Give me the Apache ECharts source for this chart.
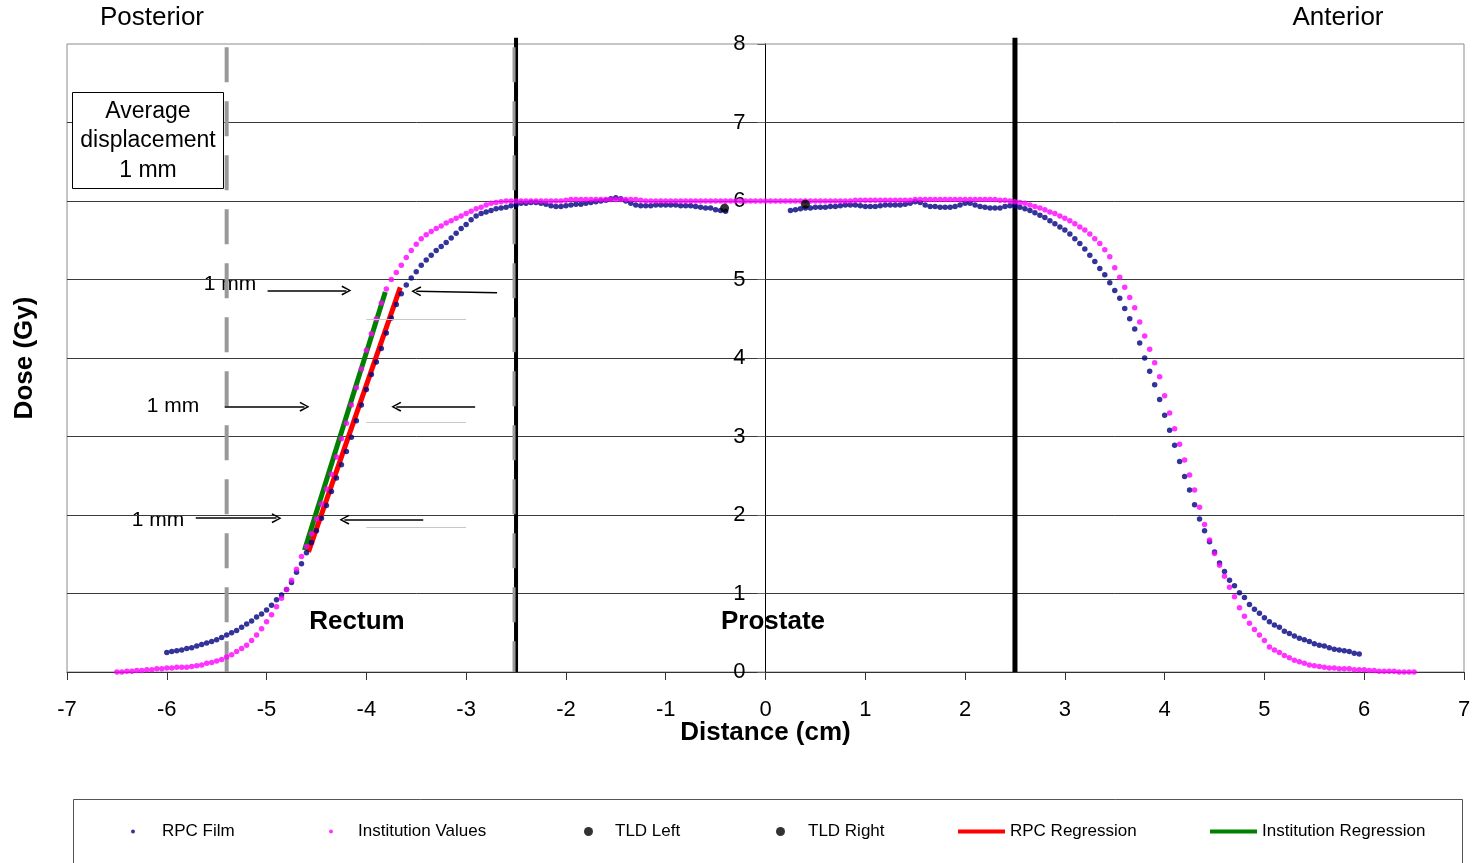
<!DOCTYPE html>
<html>
<head>
<meta charset="utf-8">
<script src="https://cdn.jsdelivr.net/npm/echarts@6.0.0/dist/echarts.min.js"></script>
<style>
html, body { margin: 0; padding: 0; background: #fff; }
#chart { width: 1476px; height: 863px; }
</style>
</head>
<body>
<div id="chart"></div>
<script>
// dose profile values (distance cm, dose Gy)
const rpcFilm = [
  [-6.00,0.25],[-5.95,0.26],[-5.90,0.27],[-5.85,0.28],[-5.80,0.30],[-5.75,0.31],[-5.70,0.33],[-5.65,0.35],[-5.60,0.37],[-5.55,0.39],
  [-5.50,0.41],[-5.45,0.44],[-5.40,0.47],[-5.35,0.50],[-5.30,0.53],[-5.25,0.57],[-5.20,0.61],[-5.15,0.65],[-5.10,0.70],[-5.05,0.74],
  [-5.00,0.79],[-4.95,0.85],[-4.90,0.92],[-4.85,0.98],[-4.80,1.05],[-4.75,1.14],[-4.70,1.27],[-4.65,1.38],[-4.60,1.52],[-4.55,1.65],
  [-4.50,1.80],[-4.45,1.96],[-4.40,2.12],[-4.35,2.30],[-4.30,2.47],[-4.25,2.64],[-4.20,2.81],[-4.15,2.99],[-4.10,3.20],[-4.05,3.40],
  [-4.00,3.60],[-3.95,3.79],[-3.90,3.95],[-3.85,4.12],[-3.80,4.32],[-3.75,4.51],[-3.70,4.68],[-3.65,4.82],[-3.60,4.93],[-3.55,5.02],
  [-3.50,5.10],[-3.45,5.18],[-3.40,5.25],[-3.35,5.31],[-3.30,5.37],[-3.25,5.42],[-3.20,5.47],[-3.15,5.53],[-3.10,5.59],[-3.05,5.65],
  [-3.00,5.70],[-2.95,5.76],[-2.90,5.81],[-2.85,5.84],[-2.80,5.86],[-2.75,5.88],[-2.70,5.90],[-2.65,5.91],[-2.60,5.92],[-2.55,5.94],
  [-2.50,5.95],[-2.45,5.97],[-2.40,5.97],[-2.35,5.98],[-2.30,5.98],[-2.25,5.97],[-2.20,5.96],[-2.15,5.94],[-2.10,5.93],[-2.05,5.93],
  [-2.00,5.94],[-1.95,5.95],[-1.90,5.96],[-1.85,5.96],[-1.80,5.97],[-1.75,5.98],[-1.70,5.99],[-1.65,6.00],[-1.60,6.01],[-1.55,6.03],
  [-1.50,6.04],[-1.45,6.03],[-1.40,6.00],[-1.35,5.97],[-1.30,5.95],[-1.25,5.94],[-1.20,5.94],[-1.15,5.94],[-1.10,5.95],[-1.05,5.95],
  [-1.00,5.95],[-0.95,5.95],[-0.90,5.95],[-0.85,5.94],[-0.80,5.94],[-0.75,5.94],[-0.70,5.93],[-0.65,5.92],[-0.60,5.91],[-0.55,5.91],
  [-0.50,5.89],[-0.45,5.88],[-0.40,5.87],
  [0.25,5.88],[0.30,5.89],[0.35,5.90],[0.40,5.91],[0.45,5.91],[0.50,5.92],[0.55,5.92],[0.60,5.92],[0.65,5.93],[0.70,5.93],
  [0.75,5.94],[0.80,5.95],[0.85,5.95],[0.90,5.95],[0.95,5.94],[1.00,5.93],[1.05,5.93],[1.10,5.93],[1.15,5.94],[1.20,5.95],
  [1.25,5.95],[1.30,5.95],[1.35,5.95],[1.40,5.96],[1.45,5.97],[1.50,5.99],[1.55,5.98],[1.60,5.95],[1.65,5.93],[1.70,5.93],
  [1.75,5.92],[1.80,5.92],[1.85,5.92],[1.90,5.93],[1.95,5.95],[2.00,5.97],[2.05,5.97],[2.10,5.95],[2.15,5.93],[2.20,5.92],
  [2.25,5.91],[2.30,5.91],[2.35,5.91],[2.40,5.93],[2.45,5.94],[2.50,5.94],[2.55,5.92],[2.60,5.90],[2.65,5.88],[2.70,5.85],
  [2.75,5.82],[2.80,5.79],[2.85,5.75],[2.90,5.71],[2.95,5.67],[3.00,5.63],[3.05,5.58],[3.10,5.52],[3.15,5.46],[3.20,5.39],
  [3.25,5.31],[3.30,5.23],[3.35,5.14],[3.40,5.06],[3.45,4.96],[3.50,4.86],[3.55,4.76],[3.60,4.63],[3.65,4.50],[3.70,4.37],
  [3.75,4.19],[3.80,4.00],[3.85,3.83],[3.90,3.66],[3.95,3.47],[4.00,3.27],[4.05,3.08],[4.10,2.89],[4.15,2.68],[4.20,2.49],
  [4.25,2.32],[4.30,2.13],[4.35,1.95],[4.40,1.80],[4.45,1.66],[4.50,1.53],[4.55,1.39],[4.60,1.28],[4.65,1.17],[4.70,1.10],
  [4.75,1.01],[4.80,0.95],[4.85,0.86],[4.90,0.80],[4.95,0.75],[5.00,0.69],[5.05,0.64],[5.10,0.60],[5.15,0.57],[5.20,0.52],
  [5.25,0.49],[5.30,0.46],[5.35,0.43],[5.40,0.41],[5.45,0.39],[5.50,0.36],[5.55,0.34],[5.60,0.33],[5.65,0.31],[5.70,0.29],
  [5.75,0.28],[5.80,0.27],[5.85,0.26],[5.90,0.24],[5.95,0.23]
];

const institutionValues = [
  [-6.50,0.00],[-6.45,0.00],[-6.40,0.01],[-6.35,0.01],[-6.30,0.02],[-6.25,0.02],[-6.20,0.03],[-6.15,0.03],[-6.10,0.04],[-6.05,0.04],
  [-6.00,0.05],[-5.95,0.05],[-5.90,0.06],[-5.85,0.06],[-5.80,0.06],[-5.75,0.07],[-5.70,0.08],[-5.65,0.09],[-5.60,0.11],[-5.55,0.12],
  [-5.50,0.14],[-5.45,0.16],[-5.40,0.19],[-5.35,0.22],[-5.30,0.26],[-5.25,0.30],[-5.20,0.34],[-5.15,0.40],[-5.10,0.47],[-5.05,0.55],
  [-5.00,0.64],[-4.95,0.73],[-4.90,0.83],[-4.85,0.94],[-4.80,1.05],[-4.75,1.17],[-4.70,1.31],[-4.65,1.47],[-4.60,1.60],[-4.55,1.76],
  [-4.50,1.95],[-4.45,2.14],[-4.40,2.33],[-4.35,2.52],[-4.30,2.74],[-4.25,2.97],[-4.20,3.17],[-4.15,3.40],[-4.10,3.62],[-4.05,3.86],
  [-4.00,4.10],[-3.95,4.31],[-3.90,4.50],[-3.85,4.70],[-3.80,4.88],[-3.75,5.00],[-3.70,5.09],[-3.65,5.18],[-3.60,5.28],[-3.55,5.37],
  [-3.50,5.45],[-3.45,5.52],[-3.40,5.57],[-3.35,5.61],[-3.30,5.65],[-3.25,5.68],[-3.20,5.72],[-3.15,5.75],[-3.10,5.78],[-3.05,5.81],
  [-3.00,5.84],[-2.95,5.87],[-2.90,5.90],[-2.85,5.92],[-2.80,5.95],[-2.75,5.97],[-2.70,5.98],[-2.65,5.99],[-2.60,6.00],[-2.55,6.00],
  [-2.50,6.00],[-2.45,6.00],[-2.40,6.00],[-2.35,6.00],[-2.30,6.00],[-2.25,6.00],[-2.20,6.00],[-2.15,6.00],[-2.10,6.00],[-2.05,6.00],
  [-2.00,6.01],[-1.95,6.02],[-1.90,6.02],[-1.85,6.02],[-1.80,6.02],[-1.75,6.02],[-1.70,6.02],[-1.65,6.02],[-1.60,6.02],[-1.55,6.02],
  [-1.50,6.02],[-1.45,6.02],[-1.40,6.02],[-1.35,6.02],[-1.30,6.02],[-1.25,6.01],[-1.20,6.00],[-1.15,6.00],[-1.10,6.00],[-1.05,6.00],
  [-1.00,6.00],[-0.95,6.00],[-0.90,6.00],[-0.85,6.00],[-0.80,6.00],[-0.75,6.00],[-0.70,6.00],[-0.65,6.00],[-0.60,6.00],[-0.55,6.00],
  [-0.50,6.00],[-0.45,6.00],[-0.40,6.00],[-0.35,6.00],[-0.30,6.00],[-0.25,6.00],[-0.20,6.00],[-0.15,6.00],[-0.10,6.00],[-0.05,6.00],
  [0.00,6.00],[0.05,6.00],[0.10,6.00],[0.15,6.00],[0.20,6.00],[0.25,6.00],[0.30,6.00],[0.35,6.00],[0.40,6.00],[0.45,6.00],
  [0.50,6.00],[0.55,6.00],[0.60,6.00],[0.65,6.00],[0.70,6.00],[0.75,6.00],[0.80,6.00],[0.85,6.00],[0.90,6.01],[0.95,6.01],
  [1.00,6.01],[1.05,6.01],[1.10,6.01],[1.15,6.01],[1.20,6.01],[1.25,6.01],[1.30,6.01],[1.35,6.01],[1.40,6.01],[1.45,6.01],
  [1.50,6.02],[1.55,6.02],[1.60,6.02],[1.65,6.02],[1.70,6.02],[1.75,6.02],[1.80,6.02],[1.85,6.02],[1.90,6.02],[1.95,6.02],
  [2.00,6.02],[2.05,6.02],[2.10,6.02],[2.15,6.02],[2.20,6.02],[2.25,6.02],[2.30,6.02],[2.35,6.01],[2.40,6.01],[2.45,6.00],
  [2.50,5.99],[2.55,5.98],[2.60,5.97],[2.65,5.95],[2.70,5.93],[2.75,5.91],[2.80,5.89],[2.85,5.86],[2.90,5.84],[2.95,5.81],
  [3.00,5.78],[3.05,5.75],[3.10,5.71],[3.15,5.67],[3.20,5.63],[3.25,5.58],[3.30,5.52],[3.35,5.46],[3.40,5.38],[3.45,5.29],
  [3.50,5.15],[3.55,5.03],[3.60,4.90],[3.65,4.77],[3.70,4.64],[3.75,4.46],[3.80,4.28],[3.85,4.11],[3.90,3.94],[3.95,3.76],
  [4.00,3.52],[4.05,3.30],[4.10,3.10],[4.15,2.90],[4.20,2.70],[4.25,2.51],[4.30,2.32],[4.35,2.10],[4.40,1.88],[4.45,1.68],
  [4.50,1.51],[4.55,1.36],[4.60,1.22],[4.65,1.08],[4.70,0.96],[4.75,0.82],[4.80,0.71],[4.85,0.62],[4.90,0.54],[4.95,0.47],
  [5.00,0.40],[5.05,0.32],[5.10,0.28],[5.15,0.25],[5.20,0.21],[5.25,0.18],[5.30,0.15],[5.35,0.13],[5.40,0.11],[5.45,0.09],
  [5.50,0.08],[5.55,0.07],[5.60,0.06],[5.65,0.05],[5.70,0.05],[5.75,0.04],[5.80,0.04],[5.85,0.04],[5.90,0.03],[5.95,0.03],
  [6.00,0.03],[6.05,0.02],[6.10,0.02],[6.15,0.01],[6.20,0.01],[6.25,0.01],[6.30,0.01],[6.35,0.00],[6.40,0.00],[6.45,0.00],
  [6.50,0.00]
];

const tldLeft = [[-0.41, 5.91]];
const tldRight = [[0.40, 5.96]];
const rpcRegression = [[-4.58, 1.53], [-3.66, 4.90]];
const institutionRegression = [[-4.62, 1.55], [-3.81, 4.84]];

// structure boundaries (cm)
const meanDisplacedEdge = -5.4;
const rectumEdge = -2.5;
const prostateEdge = 2.5;

// "1 mm" arrows and their grey guide lines, in data units
const arrowSegments = [
  [[-4.99, 4.86], [-4.20, 4.86]], [[-2.69, 4.83], [-3.50, 4.85]],
  [[-5.42, 3.38], [-4.62, 3.38]], [[-2.91, 3.38], [-3.70, 3.38]],
  [[-5.71, 1.96], [-4.90, 1.96]], [[-3.43, 1.94], [-4.22, 1.94]]
];
const guideSegments = [
  [[-4.0, 4.50], [-3.0, 4.50]],
  [[-4.0, 3.18], [-3.0, 3.18]],
  [[-4.0, 1.84], [-3.0, 1.84]]
];

const FONT = 'Liberation Sans, Arial, sans-serif';
const chevron = 'path://M5,0 L10,8.6 L8.6,9.4 L5,2.6 L1.4,9.4 L0,8.6 Z';

const chart = echarts.init(document.getElementById('chart'));

function vline(x, top, color, width, type, z) {
  return {
    type: 'line',
    data: [[x, top], [x, 0]],
    symbol: 'none',
    clip: false,
    silent: true,
    z: z,
    lineStyle: { color: color, width: width, type: type }
  };
}

function legendItem(name, left, size, pad, icon) {
  return {
    data: [{ name: name, icon: icon }],
    left: left,
    top: 823,
    padding: 0,
    itemWidth: size[0],
    itemHeight: size[1],
    selectedMode: false,
    textStyle: { fontSize: 17, fontFamily: FONT, color: '#000', padding: [0, 0, 0, pad] }
  };
}

const option = {
  animation: false,
  backgroundColor: '#fff',
  grid: { left: 67, right: 12, top: 44, bottom: 191, show: true, borderColor: '#8c8c8c', borderWidth: 1 },
  xAxis: {
    type: 'value', min: -7, max: 7, interval: 1,
    name: 'Distance (cm)', nameLocation: 'middle', nameGap: 48, nameMoveOverlap: false,
    nameTextStyle: { fontSize: 26, fontWeight: 'bold', fontFamily: FONT, color: '#000' },
    axisLine: { onZero: false, lineStyle: { color: '#333', width: 1 } },
    axisTick: { show: true, length: 8, lineStyle: { color: '#333' } },
    axisLabel: { fontSize: 22, fontFamily: FONT, color: '#000', margin: 27 },
    splitLine: { show: false }
  },
  yAxis: {
    type: 'value', min: 0, max: 8, interval: 1,
    position: 'left', offset: -698.5,
    axisLine: { onZero: false, lineStyle: { color: '#000', width: 1 } },
    axisTick: { show: true, length: 8, lineStyle: { color: '#666' } },
    axisLabel: { fontSize: 22, fontFamily: FONT, color: '#000', margin: 20 },
    splitLine: { show: true, showMaxLine: false, lineStyle: { color: '#3a3a3a', width: 1 } }
  },
  legend: [
    legendItem('RPC Film', 131, [4, 4], 22, 'circle'),
    legendItem('Institution Values', 329, [4, 4], 20, 'circle'),
    legendItem('TLD Left', 584, [9, 9], 17, 'circle'),
    legendItem('TLD Right', 776, [9, 9], 18, 'circle'),
    legendItem('RPC Regression', 958, [47, 4], 0, 'rect'),
    legendItem('Institution Regression', 1210, [47, 4], 0, 'rect')
  ],
  series: [
    vline(meanDisplacedEdge, 7.96, '#999', 4, [35, 19], 1),
    vline(rectumEdge, 8.08, '#000', 4, 'solid', 1),
    vline(rectumEdge - 0.02, 7.96, '#999', 3, [35, 19], 1),
    vline(prostateEdge, 8.08, '#000', 5, 'solid', 1),
    {
      type: 'line', data: [], silent: true, z: 2,
      markLine: {
        silent: true, animation: false,
        symbol: ['none', chevron], symbolSize: [10, 10],
        label: { show: false },
        lineStyle: { color: '#000', width: 1.5, type: 'solid' },
        data: arrowSegments.map(s => [{ coord: s[0] }, { coord: s[1] }])
      }
    },
    {
      type: 'line', data: [], silent: true, z: 2,
      markLine: {
        silent: true, animation: false,
        symbol: ['none', 'none'],
        label: { show: false },
        lineStyle: { color: '#c8c8c8', width: 1, type: 'solid' },
        data: guideSegments.map(s => [{ coord: s[0] }, { coord: s[1] }])
      }
    },
    {
      name: 'RPC Regression', type: 'line', data: rpcRegression, symbol: 'none', z: 3,
      itemStyle: { color: '#ff0000' }, lineStyle: { color: '#ff0000', width: 5 }
    },
    {
      name: 'Institution Regression', type: 'line', data: institutionRegression, symbol: 'none', z: 3,
      itemStyle: { color: '#008000' }, lineStyle: { color: '#008000', width: 5 }
    },
    {
      name: 'RPC Film', type: 'scatter', data: rpcFilm, symbol: 'circle', symbolSize: 5.5, z: 4,
      itemStyle: { color: '#000080' }
    },
    {
      name: 'Institution Values', type: 'scatter', data: institutionValues, symbol: 'circle', symbolSize: 5.5, z: 4,
      itemStyle: { color: '#ff00ff' }
    },
    {
      name: 'TLD Left', type: 'scatter', data: tldLeft, symbol: 'circle', symbolSize: 9, z: 5,
      itemStyle: { color: '#000' }
    },
    {
      name: 'TLD Right', type: 'scatter', data: tldRight, symbol: 'circle', symbolSize: 9, z: 5,
      itemStyle: { color: '#000' }
    }
  ],
  graphic: [
    { type: 'text', x: 152, y: 18, style: { text: 'Posterior', fontSize: 26, fontFamily: FONT, fill: '#000', align: 'center', verticalAlign: 'middle' } },
    { type: 'text', x: 1338, y: 18, style: { text: 'Anterior', fontSize: 26, fontFamily: FONT, fill: '#000', align: 'center', verticalAlign: 'middle' } },
    { type: 'text', x: 25, y: 358, rotation: Math.PI / 2, style: { text: 'Dose (Gy)', fontSize: 26, fontWeight: 'bold', fontFamily: FONT, fill: '#000', align: 'center', verticalAlign: 'middle' } },
    { type: 'text', x: 357, y: 622, style: { text: 'Rectum', fontSize: 26, fontWeight: 'bold', fontFamily: FONT, fill: '#000', align: 'center', verticalAlign: 'middle' } },
    { type: 'text', x: 773, y: 622, style: { text: 'Prostate', fontSize: 26, fontWeight: 'bold', fontFamily: FONT, fill: '#000', align: 'center', verticalAlign: 'middle' } },
    { type: 'text', x: 230, y: 284, style: { text: '1 mm', fontSize: 21, fontFamily: FONT, fill: '#000', align: 'center', verticalAlign: 'middle' } },
    { type: 'text', x: 173, y: 406, style: { text: '1 mm', fontSize: 21, fontFamily: FONT, fill: '#000', align: 'center', verticalAlign: 'middle' } },
    { type: 'text', x: 158, y: 520, style: { text: '1 mm', fontSize: 21, fontFamily: FONT, fill: '#000', align: 'center', verticalAlign: 'middle' } },
    { type: 'rect', shape: { x: 72.5, y: 92.5, width: 151, height: 96 }, style: { fill: '#fff', stroke: '#000', lineWidth: 1 }, z: 10 },
    { type: 'text', x: 148, y: 141, z: 11, style: { text: 'Average\ndisplacement\n1 mm', fontSize: 23, lineHeight: 29.5, fontFamily: FONT, fill: '#000', align: 'center', verticalAlign: 'middle' } },
    { type: 'rect', shape: { x: 73.5, y: 799.5, width: 1389, height: 100 }, style: { fill: 'none', stroke: '#555', lineWidth: 1 } }
  ]
};

chart.setOption(option);
</script>
</body>
</html>
